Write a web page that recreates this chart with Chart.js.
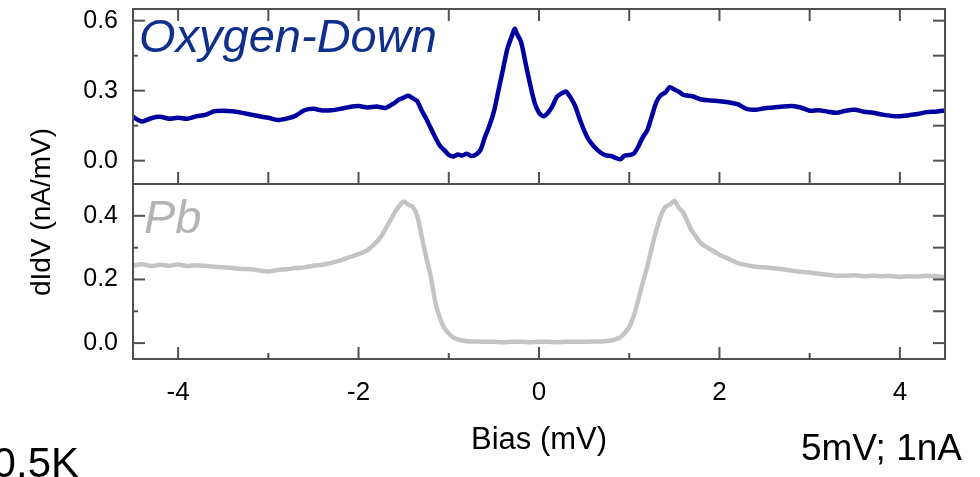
<!DOCTYPE html>
<html>
<head>
<meta charset="utf-8">
<script src="https://cdn.jsdelivr.net/npm/chart.js@4.4.1/dist/chart.umd.min.js"></script>
<style>
  html, body { margin: 0; padding: 0; background: #ffffff; }
  canvas { display: block; }
</style>
</head>
<body>
<canvas id="spectra" width="980" height="477"></canvas>
<script>
// Tunneling spectra, dI/dV vs. bias
const oxygenBias = [
  -4.5, -4.4, -4.3, -4.2, -4.1, -4.0, -3.9, -3.8, -3.7, -3.6, -3.5, -3.4, -3.3, -3.2, -3.1,
  -3.0, -2.9, -2.8, -2.7, -2.6, -2.5, -2.4, -2.3, -2.2, -2.1, -2.0, -1.9, -1.8, -1.7, -1.6,
  -1.55, -1.5, -1.45, -1.4, -1.35, -1.3, -1.25, -1.2, -1.15, -1.1, -1.05, -1.0, -0.95, -0.9,
  -0.85, -0.8, -0.75, -0.7, -0.65, -0.6, -0.55, -0.5, -0.45, -0.4, -0.35, -0.3, -0.27, -0.25,
  -0.2, -0.15, -0.1, -0.05, 0.0, 0.05, 0.1, 0.15, 0.2, 0.25, 0.3, 0.35, 0.4, 0.45, 0.5, 0.55,
  0.6, 0.65, 0.7, 0.75, 0.8, 0.85, 0.9, 0.95, 1.0, 1.05, 1.1, 1.15, 1.2, 1.25, 1.3, 1.35, 1.4,
  1.45, 1.5, 1.55, 1.6, 1.7, 1.8, 1.9, 2.0, 2.1, 2.2, 2.3, 2.4, 2.5, 2.6, 2.7, 2.8, 2.9, 3.0,
  3.1, 3.2, 3.3, 3.4, 3.5, 3.6, 3.7, 3.8, 3.9, 4.0, 4.1, 4.2, 4.3, 4.4, 4.5
];
const oxygenDidv = [
  0.188, 0.168, 0.182, 0.188, 0.180, 0.184, 0.180, 0.190, 0.196, 0.212, 0.214, 0.212, 0.206, 0.198, 0.190,
  0.184, 0.174, 0.180, 0.192, 0.216, 0.222, 0.215, 0.216, 0.222, 0.230, 0.234, 0.228, 0.232, 0.226, 0.248,
  0.262, 0.270, 0.278, 0.268, 0.255, 0.215, 0.180, 0.140, 0.100, 0.065, 0.045, 0.025, 0.018, 0.026,
  0.022, 0.030, 0.020, 0.026, 0.045, 0.100, 0.150, 0.210, 0.300, 0.390, 0.480, 0.535, 0.565, 0.548,
  0.510, 0.420, 0.330, 0.250, 0.205, 0.190, 0.205, 0.235, 0.275, 0.288, 0.296, 0.270, 0.235, 0.180, 0.130, 0.090,
  0.065, 0.045, 0.030, 0.022, 0.020, 0.012, 0.006, 0.022, 0.024, 0.030, 0.060, 0.100, 0.130, 0.190, 0.250, 0.280, 0.292,
  0.315, 0.305, 0.296, 0.282, 0.276, 0.262, 0.258, 0.255, 0.250, 0.242, 0.222, 0.218, 0.225, 0.228, 0.232, 0.234, 0.228, 0.214,
  0.216, 0.210, 0.205, 0.214, 0.218, 0.210, 0.205, 0.198, 0.192, 0.190, 0.195, 0.200, 0.208, 0.210, 0.215
];

const pbBias = [
  -4.5, -4.4, -4.3, -4.2, -4.1, -4.0, -3.9, -3.8, -3.7, -3.6, -3.5, -3.4, -3.3, -3.2, -3.1,
  -3.0, -2.9, -2.8, -2.7, -2.6, -2.5, -2.4, -2.3, -2.2, -2.1, -2.0, -1.9, -1.8, -1.75, -1.7,
  -1.65, -1.6, -1.55, -1.5, -1.45, -1.4, -1.35, -1.3, -1.25, -1.2, -1.15, -1.1, -1.05, -1.0,
  -0.95, -0.9, -0.85, -0.8, -0.7, -0.6, -0.5, -0.4, -0.3, -0.2, -0.1, 0.0, 0.1, 0.2, 0.3, 0.4,
  0.5, 0.6, 0.7, 0.8, 0.85, 0.9, 0.95, 1.0, 1.05, 1.1, 1.15, 1.2, 1.25, 1.3, 1.35, 1.4, 1.45,
  1.5, 1.55, 1.6, 1.65, 1.7, 1.75, 1.8, 1.9, 2.0, 2.1, 2.2, 2.3, 2.4, 2.5, 2.6, 2.7, 2.8, 2.9,
  3.0, 3.1, 3.2, 3.3, 3.4, 3.5, 3.6, 3.7, 3.8, 3.9, 4.0, 4.1, 4.2, 4.3, 4.4, 4.5
];
const pbDidv = [
  0.243, 0.248, 0.242, 0.246, 0.243, 0.247, 0.242, 0.245, 0.243, 0.240, 0.238, 0.236, 0.233, 0.232, 0.228,
  0.225, 0.230, 0.232, 0.236, 0.238, 0.243, 0.246, 0.252, 0.260, 0.270, 0.280, 0.292, 0.318, 0.335, 0.360,
  0.385, 0.410, 0.430, 0.445, 0.435, 0.428, 0.400, 0.335, 0.270, 0.210, 0.130, 0.080, 0.048, 0.030,
  0.018, 0.012, 0.008, 0.006, 0.005, 0.004, 0.004, 0.003, 0.004, 0.004, 0.003, 0.004, 0.004, 0.003, 0.004, 0.004,
  0.004, 0.005, 0.005, 0.008, 0.012, 0.018, 0.032, 0.050, 0.085, 0.135, 0.190, 0.240, 0.300, 0.355, 0.400, 0.428, 0.435,
  0.447, 0.425, 0.410, 0.378, 0.350, 0.330, 0.312, 0.295, 0.278, 0.265, 0.252, 0.245, 0.240, 0.238, 0.235, 0.232, 0.228, 0.224,
  0.222, 0.218, 0.215, 0.212, 0.212, 0.213, 0.210, 0.212, 0.210, 0.211, 0.208, 0.210, 0.209, 0.212, 0.210, 0.207
];

// Axis ticks and their labels
const biasTicks = [-4, -2, 0, 2, 4];
const biasTickLabels = ['-4', '-2', '0', '2', '4'];
const biasMinorTicks = [-3, -1, 1, 3];
const oxygenTicks = [0, 0.3, 0.6];
const oxygenTickLabels = ['0.0', '0.3', '0.6'];
const oxygenMinorTicks = [0.15, 0.45];
const pbTicks = [0, 0.2, 0.4];
const pbTickLabels = ['0.0', '0.2', '0.4'];
const pbMinorTicks = [0.1, 0.3];

const FONT = '"Liberation Sans", Arial, Helvetica, sans-serif';
const FRAME = '#505050';

// Panel frames, inward tick marks and the text annotations
const framePlugin = {
  id: 'panelFrames',
  afterDatasetsDraw(chart) {
    const ctx = chart.ctx;
    const x = chart.scales.x;
    const yt = chart.scales.yTop;
    const yb = chart.scales.yBot;
    const L = x.left, R = x.right;
    ctx.save();
    ctx.strokeStyle = FRAME;
    ctx.lineWidth = 2;
    ctx.lineCap = 'butt';
    const line = (x1, y1, x2, y2) => { ctx.beginPath(); ctx.moveTo(x1, y1); ctx.lineTo(x2, y2); ctx.stroke(); };

    // frames
    ctx.strokeRect(L, yt.top, R - L, yt.bottom - yt.top);
    ctx.strokeRect(L, yb.top, R - L, yb.bottom - yb.top);

    const big = 12, small = 5;
    // bias ticks on the upper panel (top and bottom edges)
    [...biasTicks, ...biasMinorTicks].forEach(v => {
      const px = x.getPixelForValue(v);
      line(px, yt.top, px, yt.top + big);
      line(px, yt.bottom, px, yt.bottom - big);
    });
    // bias ticks on the lower panel (bottom edge)
    biasTicks.forEach(v => { const px = x.getPixelForValue(v); line(px, yb.bottom, px, yb.bottom - big); });
    biasMinorTicks.forEach(v => { const px = x.getPixelForValue(v); line(px, yb.bottom, px, yb.bottom - 6); });

    // value ticks
    const yTicks = (scale, major, minor) => {
      major.forEach(v => { const py = scale.getPixelForValue(v); line(L, py, L + big, py); line(R, py, R - big, py); });
      minor.forEach(v => { const py = scale.getPixelForValue(v); line(L, py, L + small, py); line(R, py, R - big, py); });
    };
    yTicks(yt, oxygenTicks, oxygenMinorTicks);
    yTicks(yb, pbTicks, pbMinorTicks);
    ctx.restore();
  },
  afterDraw(chart) {
    const ctx = chart.ctx;
    ctx.save();
    ctx.textBaseline = 'alphabetic';

    ctx.fillStyle = '#0f2f8c';
    ctx.font = 'italic 47px ' + FONT;
    ctx.textAlign = 'left';
    ctx.fillText('Oxygen-Down', 139, 52);

    ctx.fillStyle = '#b4b4b4';
    ctx.font = 'italic 47px ' + FONT;
    ctx.fillText('Pb', 144, 233);

    ctx.fillStyle = '#000000';
    ctx.font = '28px ' + FONT;
    ctx.save();
    ctx.translate(50, 212);
    ctx.rotate(-Math.PI / 2);
    ctx.textAlign = 'center';
    ctx.fillText('dIdV (nA/mV)', 0, 0);
    ctx.restore();

    ctx.font = '31px ' + FONT;
    ctx.textAlign = 'center';
    ctx.fillText('Bias (mV)', 539, 449);

    ctx.font = '42px ' + FONT;
    ctx.textAlign = 'right';
    ctx.fillText('0.5K', 79, 477);
    ctx.font = '37px ' + FONT;
    ctx.fillText('5mV; 1nA', 962, 460);
    ctx.restore();
  }
};

const yTickFont = { family: FONT, size: 25 };
const xTickFont = { family: FONT, size: 26 };

// keep the plot area exactly where the layout padding puts it
const noLabelOverflowY = s => { s.width = 133; s.paddingTop = 0; s.paddingBottom = 0; };
const noLabelOverflowX = s => { s.height = 118; s.paddingLeft = 0; s.paddingRight = 0; };

new Chart(document.getElementById('spectra'), {
  type: 'line',
  data: {
    datasets: [
      {
        label: 'Oxygen-Down',
        data: oxygenBias.map((b, i) => ({ x: b, y: oxygenDidv[i] })),
        xAxisID: 'x', yAxisID: 'yTop',
        borderColor: '#0000a0', borderWidth: 4.5,
        pointRadius: 0, tension: 0.25, fill: false
      },
      {
        label: 'Pb',
        data: pbBias.map((b, i) => ({ x: b, y: pbDidv[i] })),
        xAxisID: 'x', yAxisID: 'yBot',
        borderColor: '#c4c4c4', borderWidth: 4.5,
        pointRadius: 0, tension: 0.25, fill: false
      }
    ]
  },
  options: {
    responsive: false,
    animation: false,
    devicePixelRatio: 1,
    layout: { padding: { top: 9, right: 35, bottom: 0, left: 0 } },
    plugins: { legend: { display: false }, tooltip: { enabled: false } },
    scales: {
      x: {
        type: 'linear', position: 'bottom', min: -4.5, max: 4.5,
        grid: { display: false, drawTicks: false }, border: { display: false },
        afterBuildTicks: s => { s.ticks = biasTicks.map(v => ({ value: v })); },
        afterFit: noLabelOverflowX,
        ticks: { font: xTickFont, color: '#000', padding: 18, maxRotation: 0,
                 callback: (v, i) => biasTickLabels[i] }
      },
      // lower panel is listed first: stacked scales are laid out bottom-up
      yBot: {
        type: 'linear', position: 'left', stack: 'panels', stackWeight: 1,
        min: -0.05, max: 0.5,
        grid: { display: false, drawTicks: false }, border: { display: false },
        afterBuildTicks: s => { s.ticks = pbTicks.map(v => ({ value: v })); },
        afterFit: noLabelOverflowY,
        ticks: { font: yTickFont, color: '#000', padding: 15,
                 callback: (v, i) => pbTickLabels[i] }
      },
      yTop: {
        type: 'linear', position: 'left', stack: 'panels', stackWeight: 1,
        min: -0.1, max: 0.65,
        grid: { display: false, drawTicks: false }, border: { display: false },
        afterBuildTicks: s => { s.ticks = oxygenTicks.map(v => ({ value: v })); },
        afterFit: noLabelOverflowY,
        ticks: { font: yTickFont, color: '#000', padding: 15,
                 callback: (v, i) => oxygenTickLabels[i] }
      }
    }
  },
  plugins: [framePlugin]
});
</script>
</body>
</html>
